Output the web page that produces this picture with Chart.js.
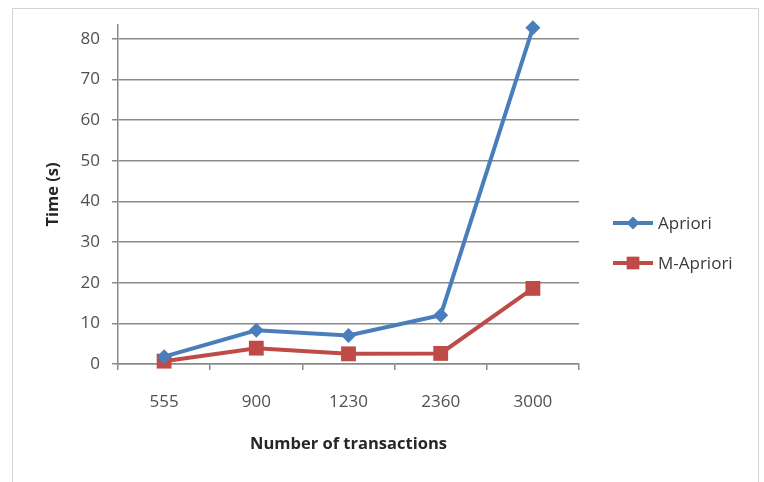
<!DOCTYPE html>
<html>
<head>
<meta charset="utf-8">
<script src="https://cdn.jsdelivr.net/npm/chart.js@4.4.1/dist/chart.umd.min.js"></script>
<style>
  html, body { margin: 0; padding: 0; background: #fff; width: 764px; height: 482px; overflow: hidden; }
  #frame { position: absolute; left: 12px; top: 8px; width: 747px; height: 500px; border: 1px solid #d4d4d4; box-sizing: border-box; }
  #wrap { position: absolute; left: 0; top: 0; width: 764px; height: 482px; }
</style>
</head>
<body>
<div id="frame"></div>
<div id="wrap"><canvas id="chart" width="764" height="482"></canvas></div>
<script>
// Run time of the two algorithms against transaction count
const categories = ['555', '900', '1230', '2360', '3000'];
const aprioriTimes = [1.8, 8.3, 7.0, 12.0, 82.7];
const mAprioriTimes = [0.7, 3.9, 2.5, 2.6, 18.6];
const seriesNames = ['Apriori', 'M-Apriori'];
const yTickStep = 10;
const yTickMax = 80;

const FONT = "'Open Sans', 'Liberation Sans', sans-serif";
const GRID = '#8a8a8a';
const BLUE = '#4A7EBB';
const RED = '#BE4B48';

// Legend drawn to the right: a short line with the series marker in its middle
const sideLegend = {
  id: 'sideLegend',
  afterDraw(chart) {
    const ctx = chart.ctx;
    const x0 = chart.chartArea.right + 34;
    chart.data.datasets.forEach((ds, i) => {
      const y = 223 + i * 40;
      ctx.save();
      ctx.strokeStyle = ds.borderColor;
      ctx.lineWidth = 4;
      ctx.beginPath();
      ctx.moveTo(x0, y);
      ctx.lineTo(x0 + 40, y);
      ctx.stroke();
      ctx.fillStyle = ds.pointBackgroundColor;
      ctx.strokeStyle = ds.pointBorderColor;
      Chart.helpers.drawPoint(ctx, {
        pointStyle: ds.pointStyle,
        radius: ds.legendRadius,
        rotation: 0,
        borderWidth: 0
      }, x0 + 20, y);
      ctx.fillStyle = '#3a3a3a';
      ctx.font = '17px ' + FONT;
      ctx.textBaseline = 'middle';
      ctx.textAlign = 'left';
      ctx.fillText(ds.label, x0 + 45, y + 1);
      ctx.restore();
    });
  }
};

new Chart(document.getElementById('chart'), {
  type: 'line',
  data: {
    labels: categories,
    datasets: [
      {
        label: seriesNames[0],
        data: aprioriTimes,
        borderColor: BLUE,
        backgroundColor: BLUE,
        pointBackgroundColor: BLUE,
        pointBorderColor: BLUE,
        borderWidth: 4,
        pointStyle: 'rectRot',
        pointRadius: 7.5,
        pointBorderWidth: 0,
        legendRadius: 6.5,
        tension: 0,
        clip: false
      },
      {
        label: seriesNames[1],
        data: mAprioriTimes,
        borderColor: RED,
        backgroundColor: RED,
        pointBackgroundColor: RED,
        pointBorderColor: RED,
        borderWidth: 4,
        pointStyle: 'rect',
        pointRadius: 10.5,
        pointBorderWidth: 0,
        legendRadius: 9,
        tension: 0,
        clip: false
      }
    ]
  },
  options: {
    responsive: false,
    animation: false,
    devicePixelRatio: 1,
    layout: { padding: { top: 25, right: 185, bottom: 0, left: 0 } },
    plugins: {
      legend: { display: false },
      tooltip: { enabled: false }
    },
    scales: {
      x: {
        type: 'category',
        offset: true,
        grid: { offset: true, drawOnChartArea: false, drawTicks: true, tickLength: 6, color: GRID, lineWidth: 1.5 },
        border: { color: GRID, width: 1.5 },
        ticks: { color: '#505050', font: { family: FONT, size: 17 }, padding: 22, maxRotation: 0 },
        title: {
          display: true,
          text: 'Number of transactions',
          color: '#262626',
          font: { family: FONT, size: 16.5, weight: 'bold' },
          padding: { top: 0, bottom: 28 }
        },
        afterFit(scale) { scale.height = 118; }
      },
      y: {
        min: 0,
        max: yTickMax + 3.4,
        ticks: {
          stepSize: yTickStep,
          includeBounds: false,
          color: '#505050',
          font: { family: FONT, size: 17 },
          padding: 12
        },
        grid: { tickLength: 6, color: GRID, lineWidth: 1.5 },
        border: { color: GRID, width: 1.5 },
        title: {
          display: true,
          text: 'Time (s)',
          color: '#262626',
          font: { family: FONT, size: 16.5, weight: 'bold' },
          padding: { top: 43, bottom: 0 }
        },
        afterFit(scale) { scale.width = 118; }
      }
    }
  },
  plugins: [sideLegend]
});
</script>
</body>
</html>
